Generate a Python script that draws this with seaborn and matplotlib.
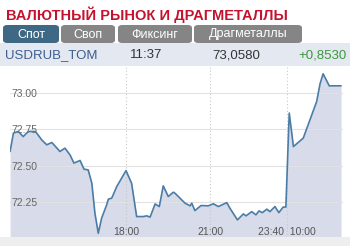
import matplotlib
matplotlib.use("Agg")
from matplotlib import pyplot as plt
from matplotlib.patches import FancyBboxPatch, Rectangle
import seaborn as sns

# Data (time as decimal hours, session continues after 23:40 -> 10:00)
hours = [13.86, 13.98, 14.15, 14.33, 14.51, 14.75, 14.81, 14.99, 15.17, 15.35,
         15.46, 15.64, 15.82, 16.00, 16.14, 16.36, 16.50, 16.65, 16.78, 16.89,
         17.01, 17.13, 17.31, 17.37, 17.49, 17.67, 18.00, 18.20, 18.38, 18.62,
         18.74, 18.86, 19.04, 19.19, 19.33, 19.51, 19.69, 19.75, 20.11, 20.29,
         20.35, 20.46, 20.68, 20.94, 21.12, 21.30, 21.60, 21.71, 21.98, 22.19,
         22.29, 22.49, 22.64, 22.75, 22.87, 23.03, 23.14, 23.32, 23.46, 23.61,
         23.71, 23.83, 23.98, 24.33, 24.81, 24.93, 25.04, 25.26, 25.68]
rate = [72.597, 72.724, 72.735, 72.700, 72.735, 72.735, 72.724, 72.677, 72.643, 72.659,
        72.636, 72.597, 72.620, 72.574, 72.517, 72.535, 72.475, 72.470, 72.378, 72.171,
        72.033, 72.137, 72.229, 72.268, 72.275, 72.355, 72.465, 72.378, 72.148, 72.148,
        72.153, 72.144, 72.235, 72.217, 72.360, 72.286, 72.316, 72.309, 72.240, 72.222,
        72.240, 72.189, 72.224, 72.222, 72.236, 72.217, 72.244, 72.206, 72.125, 72.166,
        72.153, 72.182, 72.160, 72.187, 72.175, 72.199, 72.182, 72.217, 72.175, 72.213,
        72.214, 72.862, 72.631, 72.689, 72.942, 73.064, 73.133, 73.050, 73.050]

tick_pos = [18.0, 21.0, 23.76]
tick_labels = ["18:00", "21:00", "23:40  10:00"]
y_ticks = [72.25, 72.50, 72.75, 73.00]

tabs = ["Спот", "Своп", "Фиксинг", "Драгметаллы"]
row = ["USDRUB_TOM", "11:37", "73,0580", "+0,8530"]

sns.set_theme(style="white")
plt.rcParams["font.family"] = ["Liberation Sans", "DejaVu Sans"]

W, H = 350, 246
fig = plt.figure(figsize=(3.5, 2.46), dpi=100)
fig.patch.set_facecolor("white")

def fx(px):
    return px / W

def fy(py):
    return 1 - py / H

# Title
fig.text(fx(6), fy(15), "ВАЛЮТНЫЙ РЫНОК И ДРАГМЕТАЛЛЫ", color="#c4122f",
         fontsize=10.5, fontweight="bold", va="center", ha="left")

# Tabs
tab_x = [(3, 59), (61, 115), (118, 192), (194, 302)]
tab_colors = ["#3f6884", "#858585", "#858585", "#858585"]
for (x0, x1), name, c in zip(tab_x, tabs, tab_colors):
    p = FancyBboxPatch((fx(x0), fy(43)), fx(x1 - x0), (43 - 25) / H,
                       boxstyle="round,pad=0,rounding_size=0.012",
                       transform=fig.transFigure, facecolor=c, edgecolor="none")
    fig.patches.append(p)
    fig.text(fx((x0 + x1) / 2), fy(34.5), name, color="white", fontsize=9,
             ha="center", va="center")

# Quote row
fig.patches.append(Rectangle((0, fy(66)), 1, 23 / H, transform=fig.transFigure,
                             facecolor="#e4e8f1", edgecolor="none"))
row_x = [5, 130, 212, 298]
row_colors = ["#3c5e90", "#333333", "#333333", "#3a9a3a"]
for x, t, c in zip(row_x, row, row_colors):
    fig.text(fx(x), fy(55), t, color=c, fontsize=9.5, ha="left", va="center")

# Bottom strip
fig.patches.append(Rectangle((0, 0), 1, 9 / H, transform=fig.transFigure,
                             facecolor="#eeeeee", edgecolor="none"))

# Chart
ax = fig.add_axes([fx(10), fy(238), fx(333), (238 - 67) / H])
ax.set_facecolor("white")
ax.fill_between(hours, rate, 72.0, color="#d7dbea", lw=0, zorder=1)
sns.lineplot(x=hours, y=rate, ax=ax, color="#4a7ca6", linewidth=1.2, zorder=4)

ax.set_xlim(13.857, 25.75)
ax.set_ylim(72.0, 73.18)

ax.set_yticks(y_ticks)
ax.set_yticklabels([f"{v:.2f}" for v in y_ticks])
ax.set_xticks(tick_pos)
ax.set_xticklabels(tick_labels)
ax.tick_params(axis="y", length=0, pad=-1, labelsize=7.5, labelcolor="#666666")
ax.tick_params(axis="x", length=0, pad=-1, labelsize=7.5, labelcolor="#555555")
for lbl in ax.get_yticklabels():
    lbl.set_horizontalalignment("left")
for lbl in ax.get_xticklabels():
    lbl.set_verticalalignment("bottom")

ax.set_axisbelow(False)
ax.grid(True, axis="y", color="#e2e2e2", linewidth=0.8)
ax.grid(True, axis="x", color="#c8c8c8", linewidth=0.8, linestyle=(0, (1, 2)))
for s in ax.spines.values():
    s.set_visible(False)
ax.set_xlabel("")
ax.set_ylabel("")

fig.savefig("out.png", dpi=100)
